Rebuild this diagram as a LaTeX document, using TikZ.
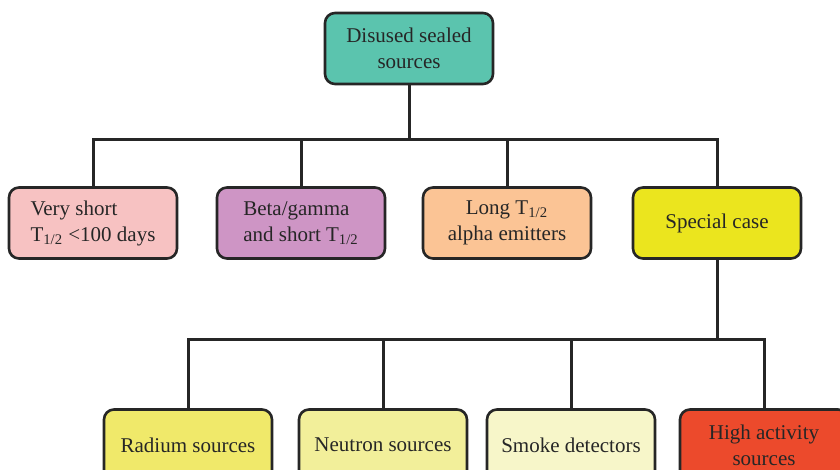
\documentclass[tikz,border=0pt]{standalone}
\usepackage{fontspec}
\setmainfont{Liberation Serif}
\usepackage{tikz}
\usetikzlibrary{positioning}
\definecolor{topcol}{HTML}{5BC4AE}
\definecolor{pinkcol}{HTML}{F7C2C2}
\definecolor{purplecol}{HTML}{CE95C5}
\definecolor{orangecol}{HTML}{FBC495}
\definecolor{yellowcol}{HTML}{EBE51E}
\definecolor{radiumcol}{HTML}{F0E96A}
\definecolor{neutroncol}{HTML}{F2EF9A}
\definecolor{smokecol}{HTML}{F7F6C9}
\definecolor{highcol}{HTML}{EC4A2C}
\newcommand{\halflife}{T\textsubscript{1/2}}

\begin{document}
\begin{tikzpicture}[x=0.5pt,y=-0.5pt,
  box/.style={draw=black!85,line width=1.3pt,rounded corners=5pt,minimum width=84pt,minimum height=35.5pt,
    font=\fontsize{10.5}{13}\selectfont,text=black!85,inner sep=2pt},
  link/.style={draw=black!85,line width=1.5pt}]
\useasboundingbox (0,0) rectangle (840,470);
% top level
\node[box,fill=topcol,align=center] (disused) at (409,48.5) {Disused sealed\\sources};
% second level
\node[box,fill=pinkcol,align=left] (veryshort) at (93,223) {Very short\\\halflife{} <100 days};
\node[box,fill=purplecol,align=left] (betagamma) at (301,223) {Beta/gamma\\and short \halflife};
\node[box,fill=orangecol,align=center] (longalpha) at (507,223) {Long \halflife\\alpha emitters};
\node[box,fill=yellowcol,align=center] (special) at (717,223) {Special case};
% third level
\node[box,fill=radiumcol] (radium) at (188,445) {Radium sources};
\node[box,fill=neutroncol] (neutron) at (383,445) {Neutron sources};
\node[box,fill=smokecol] (smoke) at (571,445) {Smoke detectors};
\node[box,fill=highcol,align=center] (highact) at (764,445) {High activity\\sources};
\coordinate (busA) at (409,140);
\coordinate (busB) at (717,339);
% connectors
\draw[link] (disused.south) -- (busA);
\draw[link] (veryshort.north) |- (busA) -| (special.north);
\draw[link] (betagamma.north) -- (betagamma.north |- busA);
\draw[link] (longalpha.north) -- (longalpha.north |- busA);
\draw[link] (special.south) -- (busB);
\draw[link] (radium.north) |- (busB) -| (highact.north);
\draw[link] (neutron.north) -- (neutron.north |- busB);
\draw[link] (smoke.north) -- (smoke.north |- busB);
\end{tikzpicture}
\end{document}
